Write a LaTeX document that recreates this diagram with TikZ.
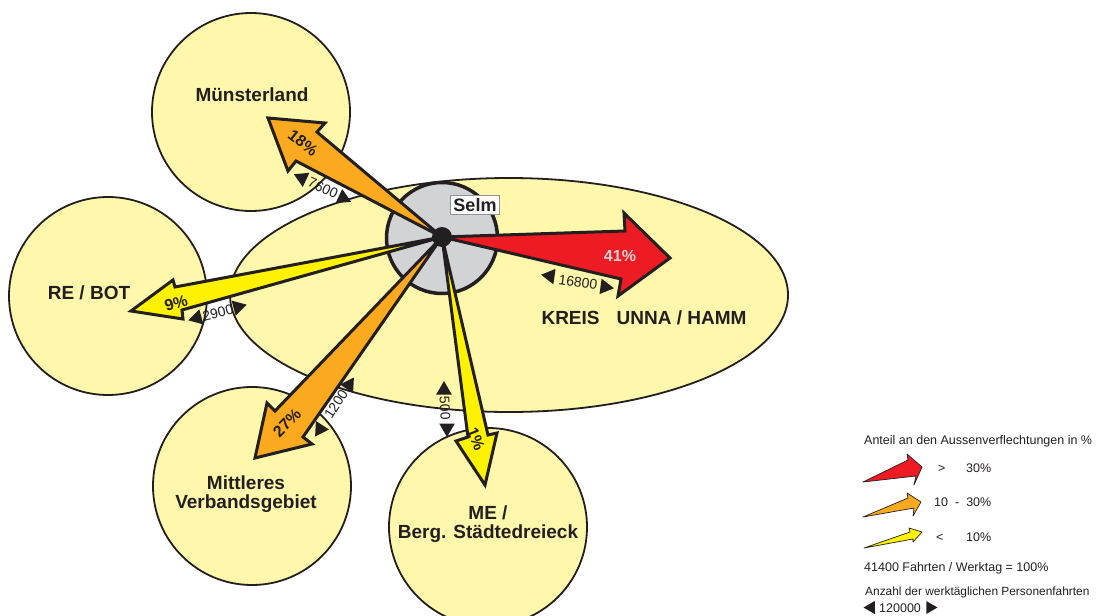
\documentclass[tikz,border=0pt]{standalone}
\usepackage{fontspec}
\setmainfont{Liberation Sans}
\usepackage{xcolor}
\usetikzlibrary{positioning,shapes.geometric}

\definecolor{inkdark}{HTML}{231F20}
\definecolor{regionfill}{HTML}{FFF7AB}
\definecolor{hubfill}{HTML}{D1D3D4}
\definecolor{flowred}{HTML}{ED1C24}
\definecolor{floworange}{HTML}{FBA91E}
\definecolor{flowyellow}{HTML}{FFF200}

\tikzset{
    region/.style={circle, draw=inkdark, line width=1.8pt, fill=regionfill, inner sep=0pt, minimum size=198pt},
    regionname/.style={font=\bfseries\fontsize{19}{19}\selectfont, text=inkdark, align=center, inner sep=0pt},
    flow/.style={draw=inkdark, line width=3pt, line join=miter, miter limit=6},
    keyflow/.style={draw=inkdark, line width=0.7pt, line join=round},
    share/.style={font=\bfseries\fontsize{16}{17}\selectfont, text=inkdark, inner sep=0pt},
    trips/.style={font=\fontsize{14}{15}\selectfont, text=inkdark, inner sep=0pt},
    tripend/.style={regular polygon, regular polygon sides=3, fill=inkdark, inner sep=0pt, minimum size=18pt},
    keytext/.style={font=\fontsize{12.5}{15}\selectfont, text=inkdark, inner sep=0pt, anchor=base west},
}

\begin{document}
\begin{tikzpicture}[x=1pt, y=-1pt]

    \clip (0,0) rectangle (1101,616);

    % regions
    \node[ellipse, draw=inkdark, line width=1.8pt, fill=regionfill, inner sep=0pt,
          minimum width=558pt, minimum height=234pt] (kreis) at (509,295) {};
    \node[region] (muenster) at (251,112) {};
    \node[region] (rebot)    at (108,296) {};
    \node[region] (mittel)   at (252,486) {};
    \node[region] (berg)     at (488,527) {};

    % region names
    \node[regionname] (muenster_name) at (252,95) {Münsterland};
    \node[regionname] (rebot_name) at (89,293) {RE / BOT};
    \node[regionname] (mittel_name) at (246,494) {Mittleres\\Verbandsgebiet};
    \node[regionname] (berg_name) at (488,524) {ME /\\Berg. Städtedreieck};
    \node[regionname] (kreis_name) at (644,318) {KREIS\hspace{17pt}UNNA / HAMM};

    % centre
    \node[circle, draw=inkdark, line width=3.5pt, fill=hubfill, inner sep=0pt, minimum size=111pt] (selm) at (442,238) {};
    \coordinate (hub) at (442,237);

    % flow arrows
    \draw[flow, fill=floworange] (hub) -- (317,132) -- (325,123) -- (268,118) -- (288,171) -- (296,161) -- cycle;
    \draw[flow, fill=flowyellow] (hub) -- (175,287) -- (173,280) -- (131,311) -- (183,319) -- (182,310) -- cycle;
    \draw[flow, fill=floworange] (hub) -- (275,411) -- (267,403) -- (255,458) -- (312,444) -- (303,437) -- cycle;
    \draw[flow, fill=flowyellow] (hub) -- (468,437) -- (456,441) -- (485,485) -- (497,433) -- (488,435) -- cycle;
    \draw[flow, fill=flowred]    (hub) -- (625,231) -- (624,213) -- (670,258) -- (618,296) -- (621,279) -- cycle;

    \node[circle, fill=inkdark, inner sep=0pt, minimum size=20pt] (hubdot) at (hub) {};
    \node[draw=hubfill!70!black, line width=0.6pt, fill=white, inner sep=3pt,
          font=\bfseries\fontsize{18}{18}\selectfont, text=inkdark] (selm_name) at (475,205) {Selm};

    % shares
    \node[share, rotate=-38] (share_muenster) at (303,143) {18\%};
    \node[share, rotate=17]  (share_rebot)    at (176,303) {9\%};
    \node[share, rotate=45]  (share_mittel)   at (287,423) {27\%};
    \node[share, rotate=-68] (share_berg)     at (476,439) {1\%};
    \node[share, text=hubfill] (share_kreis)  at (620,256) {41\%};

    % trip counts
    \node[trips, rotate=-25] (trips_muenster) at (323,188) {7600};
    \node[tripend, rotate=65]   (end_m1) at (302,178) {};
    \node[tripend, rotate=-115] (end_m2) at (343,198) {};

    \node[trips, rotate=15] (trips_rebot) at (218,313) {2900};
    \node[tripend, rotate=105] (end_r1) at (197,318) {};
    \node[tripend, rotate=-75] (end_r2) at (238,307) {};

    \node[trips, rotate=-8] (trips_kreis) at (578,282) {16800};
    \node[tripend, rotate=82]  (end_k1) at (550,276) {};
    \node[tripend, rotate=-98] (end_k2) at (605,287) {};

    \node[trips, rotate=57] (trips_mittel) at (336,404) {1200};
    \node[tripend, rotate=-33]  (end_v1) at (349,385) {};
    \node[tripend, rotate=147]  (end_v2) at (320,429) {};

    \node[trips, rotate=-87] (trips_berg) at (445,408) {500};
    \node[tripend]             (end_b1) at (444,390) {};
    \node[tripend, rotate=180] (end_b2) at (447,428) {};

    % legend
    \node[keytext] (key_title) at (864,444) {Anteil an den Aussenverflechtungen in \%};

    \draw[keyflow, fill=flowred]    (863,482) -- (908,460) -- (907,454) -- (922,467) -- (914,485) -- (916,476) -- cycle;
    \draw[keyflow, fill=floworange] (863,517) -- (908,498) -- (907,493) -- (921,502) -- (913,516) -- (914,508) -- cycle;
    \draw[keyflow, fill=flowyellow] (864,548) -- (910,532) -- (909,528) -- (922,532) -- (913,542) -- (913,539) -- cycle;

    \node[keytext] (key_gt) at (938,472) {>};
    \node[keytext] (key_gt_val) at (966,472) {30\%};
    \node[keytext] (key_mid) at (934,506) {10\hspace{7pt}-\hspace{7pt}30\%};
    \node[keytext] (key_lt) at (936,541) {<};
    \node[keytext] (key_lt_val) at (966,541) {10\%};

    \node[keytext] (key_total) at (864,571) {41400 Fahrten / Werktag = 100\%};
    \node[keytext, font=\fontsize{11.9}{15}\selectfont] (key_trips) at (865,595) {Anzahl der werktäglichen Personenfahrten};
    \node[keytext] (key_val) at (879,612) {120000};
    \node[tripend, rotate=90, minimum size=15pt]  (key_end1) at (871,607.5) {};
    \node[tripend, rotate=-90, minimum size=15pt] (key_end2) at (930,607.5) {};

\end{tikzpicture}
\end{document}
